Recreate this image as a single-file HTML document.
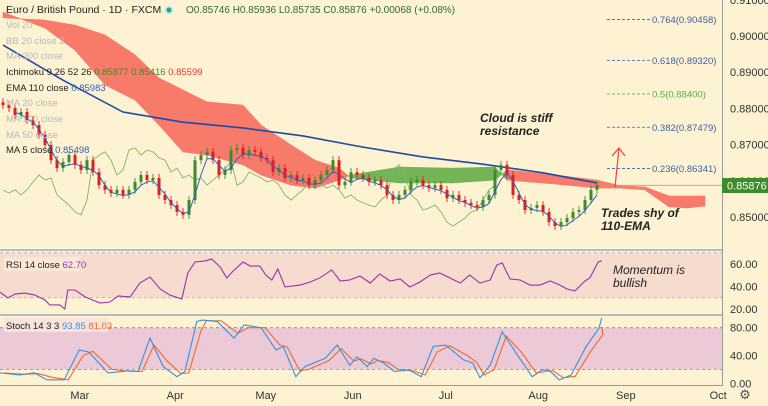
<!DOCTYPE html>
<html><head><meta charset="utf-8">
<style>
html,body{margin:0;padding:0;background:#fdf3d2;}
svg{display:block;font-family:"Liberation Sans",sans-serif;}
</style></head>
<body>
<svg id="c" width="768" height="406" viewBox="0 0 768 406">
<rect x="0" y="0" width="768" height="406" fill="#fdf3d2"/>
<g id="main"></g>
<g id="rsi"></g>
<g id="stoch"></g>
<g id="axes"></g>
</svg>
<script>
// ---- data ----
const closes=[0.8809,0.8801,0.8782,0.8790,0.8768,0.8754,0.8727,0.8699,0.8657,0.8635,
0.8652,0.8671,0.8644,0.8630,0.8657,0.8624,0.8588,0.8575,0.8566,0.8575,
0.8561,0.8575,0.8597,0.8616,0.8602,0.8608,0.8561,0.8547,0.8533,0.8514,
0.8506,0.8547,0.8657,0.8671,0.8680,0.8657,0.8616,0.8630,0.8685,0.8691,
0.8671,0.8685,0.8680,0.8663,0.8657,0.8624,0.8635,0.8608,0.8616,0.8602,
0.8608,0.8588,0.8602,0.8616,0.8630,0.8657,0.8588,0.8597,0.8624,0.8616,
0.8608,0.8597,0.8602,0.8588,0.8561,0.8547,0.8561,0.8575,0.8597,0.8602,
0.8588,0.8580,0.8588,0.8575,0.8552,0.8561,0.8547,0.8539,0.8533,0.8528,
0.8547,0.8561,0.8630,0.8644,0.8616,0.8561,0.8547,0.8519,0.8525,0.8533,
0.8514,0.8486,0.8475,0.8486,0.8497,0.8514,0.8519,0.8547,0.8575,0.85876];
const emaIdx=[0,10,20,30,40,50,60,70,80,90,99];
const emaVals=[0.8975,0.8878,0.8790,0.8762,0.8746,0.8724,0.8693,0.8666,0.8646,0.8622,0.8594];
const cloudIdx=[0,7,12,17,22,26,30,34,40,43,48,52,56,58,66,75,82,84,92,99,103,107,111,114,117];
const spanA=[0.9066,0.9022,0.8961,0.8865,0.8823,0.8754,0.8680,0.8671,0.8644,0.8616,0.8588,0.8580,0.8602,0.8616,0.8638,0.8635,0.8638,0.8602,0.8591,0.8580,0.8580,0.8575,0.8528,0.8525,0.8530];
const spanB=[0.9050,0.9044,0.9030,0.9003,0.8948,0.8884,0.8851,0.8818,0.8809,0.8754,0.8699,0.8657,0.8635,0.8608,0.8594,0.8594,0.8602,0.8630,0.8616,0.8602,0.8586,0.8583,0.8558,0.8558,0.8558];
const fibRatios=["0.764","0.618","0.5","0.382","0.236"];
const fibPrices=[0.90458,0.89320,0.88400,0.87479,0.86341];
const rsiIdx=[-0.5,0.8,2,3.7,5.3,7,7.8,9.5,10.3,10.8,12,13.7,16.2,17.8,19.2,21.2,22.8,24.5,26.2,27.8,29.8,30.8,32,33.7,34.8,36.2,37.3,38.2,40,41.2,42.8,43.8,44.8,45.8,47,49.5,51.2,52.8,54.8,56.2,57.8,59.5,61.2,62.8,64.5,66.2,67.8,69.5,71.2,72.8,74.5,76.2,77.8,79.5,81.2,82.3,83.2,84.5,86.2,87.8,89.5,91.2,92.8,94,95.3,97,97.8,99.2,99.8];
const rsiVals=[35.1,29.8,33.3,34.2,32.4,28,23.6,23.6,20,36.9,36.9,30.7,25.3,26.2,31.6,30.7,43.1,48.4,37.8,32.4,28.9,52,61.8,62.7,64.4,57.3,47.6,52.9,61.8,58.2,58.2,50.2,45.8,55.6,39.6,41.3,44,47.6,54.7,44.9,45.8,49.3,43.1,51.1,44.9,46.7,39.6,44,50.2,52,47.6,43.1,50.2,43.1,45.8,59.1,60.9,46.7,45.8,41.3,41.3,44.9,41.3,37.8,36,44.9,47.6,61.8,62.7];
const stochIdx=[-0.5,2.8,5.2,7.3,10.2,12.7,14.3,17.5,20.8,22.5,24.5,26.7,29,30.3,32.3,33.2,35.7,38.5,40.2,43,45.5,46.7,48.8,50.3,53.7,55.7,57.8,59,60.7,61.8,63.5,65.2,67.7,69.7,71.7,73.8,76.7,78.3,79.5,81.2,83.2,85.7,88.2,89.8,91,92.7,94.7,97.2,99.3,99.8];
const stochK=[15,12,15,5,5,48,45,15,18,17,65,24,9.5,17,89,91,89,65,84,80,48,53,9.5,24,36,55,26,38,24,36,29,17,19,9.5,53,55,34,29,8,26,74,41,9.5,19,19,5,12,53,79,93.85];
const stochD=[15,13,14,9,5,40,46,20,17,17,55,32,14,15,75,90,90,72,80,80,55,52,18,20,33,50,32,35,28,33,30,20,18,12,45,54,40,30,12,20,68,45,15,17,18,8,10,45,70,81.03];
const priceTicks=["0.91000","0.90000","0.89000","0.88000","0.87000","0.86000","0.85000"];
const rsiTicks=["60.00","40.00","20.00"];
const stochTicks=["80.00","40.00","0.00"];
const monthLabels=["Mar","Apr","May","Jun","Jul","Aug","Sep","Oct"];
const monthIdx=[12.8,28.7,43.8,58.3,73.8,89.2,103.8,119.2];
const lagShift=17;

// ---- scales ----
const NS="http://www.w3.org/2000/svg";
const X=i=>3+i*6;
const Y=v=>36+(0.90-v)*3620;
const YR=v=>264+(60-v)*1.125;
const YS=v=>383.3-v*0.695;
function mk(tag,attrs,parent,text){const e=document.createElementNS(NS,tag);for(const k in attrs)e.setAttribute(k,attrs[k]);if(text!==undefined)e.textContent=text;parent.appendChild(e);return e;}
const main=document.getElementById('main'),rsiG=document.getElementById('rsi'),stG=document.getElementById('stoch'),ax=document.getElementById('axes');

// cloud
for(let k=0;k<cloudIdx.length-1;k++){
  const x1=X(cloudIdx[k]),x2=X(cloudIdx[k+1]);
  const a1=spanA[k],a2=spanA[k+1],b1=spanB[k],b2=spanB[k+1];
  const green=(a1+a2)>(b1+b2);
  const p=mk('polygon',{points:`${x1},${Y(a1)} ${x2},${Y(a2)} ${x2},${Y(b2)} ${x1},${Y(b1)}`,fill:green?'#72b456':'#f87a6a',stroke:green?'#72b456':'#f87a6a','stroke-width':0.6},main);
  
  
}
// lagging span
let lp=[];for(let i=lagShift;i<closes.length;i++)lp.push(X(i-lagShift)+','+Y(closes[i]));
const lag=mk('polyline',{points:lp.join(' '),fill:'none',stroke:'#7fb56a','stroke-width':0.9},main);


// EMA 110
const ema=mk('polyline',{points:emaIdx.map((d,k)=>X(d)+','+Y(emaVals[k])).join(' '),fill:'none',stroke:'#1f4aa8','stroke-width':1.6},main);


// candles
for(let i=0;i<closes.length;i++){
  const o=i?closes[i-1]:closes[0]+0.0008,c=closes[i];
  const up=c>=o,col=up?'#3b8a2c':'#e01e1e';
  const top=Math.min(Y(o),Y(c)),bot=Math.max(Y(o),Y(c));
  const w=mk('line',{x1:X(i),x2:X(i),y1:top-4,y2:bot+4,stroke:col,'stroke-width':1,opacity:0.9},main);
  
  
  const b=mk('rect',{x:X(i)-1.5,y:top,width:3,height:Math.max(1,bot-top),fill:col},main);
  
  
}
// MA5
let mp=[];for(let i=2;i<closes.length;i++){const m=(closes[i]+closes[i-1]+closes[i-2])/3;mp.push(X(i)+','+(Y(m)+3));}
const ma=mk('polyline',{points:mp.join(' '),fill:'none',stroke:'#2f5fc4','stroke-width':1},main);


// fib
fibPrices.forEach((p,k)=>{
  const col=fibRatios[k]==="0.5"?'#5aae4a':'#3a5fa8';
  const l=mk('line',{x1:607,x2:650,y1:Y(p),y2:Y(p),stroke:col,'stroke-width':0.8,'stroke-dasharray':'3,2'},main);
  
  
  const t=mk('text',{x:652,y:Y(p)+3.5,'font-size':9.5,fill:col},main,fibRatios[k]+'('+p.toFixed(5)+')');
  
  
});
// price line & arrow
const pl=mk('line',{x1:600,x2:722,y1:Y(0.85876),y2:Y(0.85876),stroke:'#c9a060','stroke-width':0.8},main);


const ar=mk('path',{d:'M615,187 L619,148 M612,156 L619,148 L625,156',fill:'none',stroke:'#f04040','stroke-width':1.2},main);



// RSI pane
const rb=mk('rect',{x:0,y:YR(70),width:722,height:YR(30)-YR(70),fill:'#f6dccf'},rsiG);


[70,30].forEach(v=>{const l=mk('line',{x1:0,x2:722,y1:YR(v),y2:YR(v),stroke:'#aaa','stroke-width':0.8,'stroke-dasharray':'3,3'},rsiG);

});
const rl=mk('polyline',{points:rsiIdx.map((d,k)=>X(d)+','+YR(rsiVals[k])).join(' '),fill:'none',stroke:'#9c2fb0','stroke-width':1.1},rsiG);



// Stoch pane
const sb=mk('rect',{x:0,y:YS(80),width:722,height:YS(20)-YS(80),fill:'#ebc9d6'},stG);


[80,20].forEach(v=>{const l=mk('line',{x1:0,x2:722,y1:YS(v),y2:YS(v),stroke:'#888','stroke-width':0.8,'stroke-dasharray':'3,3'},stG);

});
const sd=mk('polyline',{points:stochIdx.map((d,k)=>(X(d)+(k<stochIdx.length-1?4:0))+','+YS(stochD[k])).join(' '),fill:'none',stroke:'#f26a2a','stroke-width':1.1},stG);


const sk=mk('polyline',{points:stochIdx.map((d,k)=>X(d)+','+YS(stochK[k])).join(' '),fill:'none',stroke:'#3b8fe0','stroke-width':1.1},stG);



// axes
priceTicks.forEach(t=>{const v=parseFloat(t);const e=mk('text',{x:730,y:Y(v)+4,'font-size':11,fill:'#333'},ax,t);

});
rsiTicks.forEach(t=>{const e=mk('text',{x:730,y:YR(parseFloat(t))+4,'font-size':11,fill:'#333'},ax,t);

});
stochTicks.forEach(t=>{const e=mk('text',{x:730,y:YS(parseFloat(t))+4,'font-size':11,fill:'#333'},ax,t);

});
monthLabels.forEach((m,k)=>{const e=mk('text',{x:X(monthIdx[k]),y:399,'font-size':11,fill:'#333','text-anchor':'middle'},ax,m);

});
</script>
<svg width="768" height="406" style="position:absolute;left:0;top:0">
<g font-family="Liberation Sans, sans-serif">
<line x1="722.5" y1="0" x2="722.5" y2="386" stroke="#999" stroke-width="1"/>
<line x1="0" y1="250" x2="722" y2="250" stroke="#bbb" stroke-width="2"/>
<line x1="0" y1="315" x2="722" y2="315" stroke="#bbb" stroke-width="2"/>
<line x1="0" y1="385.5" x2="722" y2="385.5" stroke="#999" stroke-width="1"/>
<rect x="722" y="178" width="46" height="15" fill="#3d8b2a"/>
<text x="727" y="189.5" font-size="11" fill="#fff">0.85876</text>
<text x="745" y="399" font-size="13" fill="#555" text-anchor="middle">⚙</text>
<text x="6" y="13" font-size="10.5" fill="#222">Euro / British Pound · 1D · FXCM</text>
<circle cx="169" cy="10" r="5" fill="#d6eedd"/>
<circle cx="169" cy="10" r="2.6" fill="#26a69a"/>
<text x="186" y="13" font-size="10" fill="#2e6b2e">O0.85746 H0.85936 L0.85735 C0.85876 +0.00068 (+0.08%)</text>
<g font-size="9.5" fill="#b7b7bf">
<text x="6" y="28">Vol 20</text>
<text x="6" y="44">BB 20 close 2</text>
<text x="6" y="59">MA 200 close</text>
<text x="6" y="106">MA 20 close</text>
<text x="6" y="122">MA 100 close</text>
<text x="6" y="138">MA 50 close</text>
</g>
<text x="6" y="75" font-size="9.5" fill="#222">Ichimoku 9 26 52 26 <tspan fill="#3d8b2a">0.85877</tspan> <tspan fill="#3d8b2a">0.85416</tspan> <tspan fill="#e33">0.85599</tspan></text>
<text x="6" y="91" font-size="9.5" fill="#222">EMA 110 close <tspan fill="#2f5fc4">0.85983</tspan></text>
<text x="6" y="153" font-size="9.5" fill="#222">MA 5 close <tspan fill="#2f5fc4">0.85498</tspan></text>
<rect x="4" y="257" width="76" height="14" fill="#f9e7d8"/>
<text x="6" y="268" font-size="9.5" fill="#222">RSI 14 close <tspan fill="#9c2fb0">62.70</tspan></text>
<rect x="4" y="318" width="104" height="14" fill="#f7e4dc"/>
<text x="6" y="329" font-size="9.5" fill="#222">Stoch 14 3 3 <tspan fill="#3b8fe0">93.85</tspan> <tspan fill="#f26a2a">81.03</tspan></text>
<g font-size="12" font-style="italic" font-weight="bold" fill="#222">
<text x="480" y="122">Cloud is stiff</text>
<text x="480" y="135">resistance</text>
<text x="601" y="217">Trades shy of</text>
<text x="601" y="230">110-EMA</text>
</g>
<g font-size="12" font-style="italic" fill="#222">
<text x="613" y="274">Momentum is</text>
<text x="613" y="287">bullish</text>
</g>
</g>
</svg>
</body></html>
